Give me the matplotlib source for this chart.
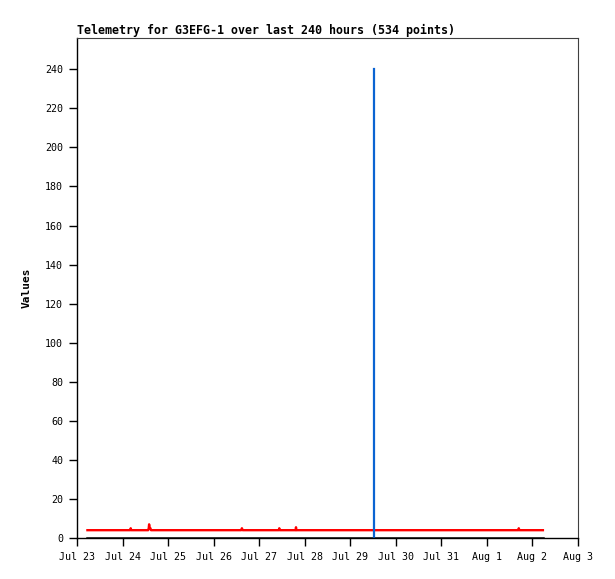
import datetime as dt
import matplotlib
matplotlib.use("Agg")
import matplotlib.pyplot as plt
import matplotlib.dates as mdates

# hours after Jul 23 00:00
t0 = dt.datetime(2024, 7, 23)

red_hours = [5.5, 28.0, 28.3, 28.6, 37.5, 37.8, 38.0, 38.3, 38.7, 39.0,
             86.5, 86.9, 87.3, 106.3, 106.6, 106.9, 115.2, 115.4, 115.6,
             232.5, 232.8, 233.1, 245.5]
red_vals = [4, 4, 5, 4, 4, 5, 7, 5, 5, 4,
            4, 5, 4, 4, 5, 4, 4, 5.5, 4,
            4, 5, 4, 4]

black_hours = [5.5, 245.5]
black_vals = [0, 0]

blue_hours = [156.7, 156.7]
blue_vals = [0, 240]

day_ticks = list(range(0, 12))


def to_dates(hours):
    return [t0 + dt.timedelta(hours=h) for h in hours]


plt.rcParams['font.family'] = ['DejaVu Sans Mono']

fig = plt.figure(figsize=(6.15, 5.79), dpi=100)
ax = fig.add_axes([77 / 615, 1 - 538 / 579, 501 / 615, 500 / 579])

ax.plot(to_dates(black_hours), black_vals, color='black', linewidth=1.8)
ax.plot(to_dates(red_hours), red_vals, color='#ff0000', linewidth=1.7)
ax.plot(to_dates(blue_hours), blue_vals, color='#0a64d2', linewidth=1.6)

ax.set_xlim(t0, t0 + dt.timedelta(days=11))
ax.set_ylim(0, 256)
ax.set_yticks(range(0, 241, 20))
ax.set_xticks([t0 + dt.timedelta(days=d) for d in day_ticks])
ax.xaxis.set_major_formatter(mdates.DateFormatter('%b %-d'))

ax.tick_params(axis='both', direction='out', length=6, width=1, labelsize=7.2, pad=4)
for s in ['top', 'right']:
    ax.spines[s].set_color('#404040')
    ax.spines[s].set_linewidth(0.8)
for s in ['left', 'bottom']:
    ax.spines[s].set_color('black')
    ax.spines[s].set_linewidth(1)

ax.set_title('Telemetry for G3EFG-1 over last 240 hours (534 points)',
             loc='left', fontsize=8.35, fontweight='bold', pad=3)
ax.set_ylabel('Values', fontsize=8, fontweight='bold', labelpad=10)

fig.savefig('out.png', dpi=100)
